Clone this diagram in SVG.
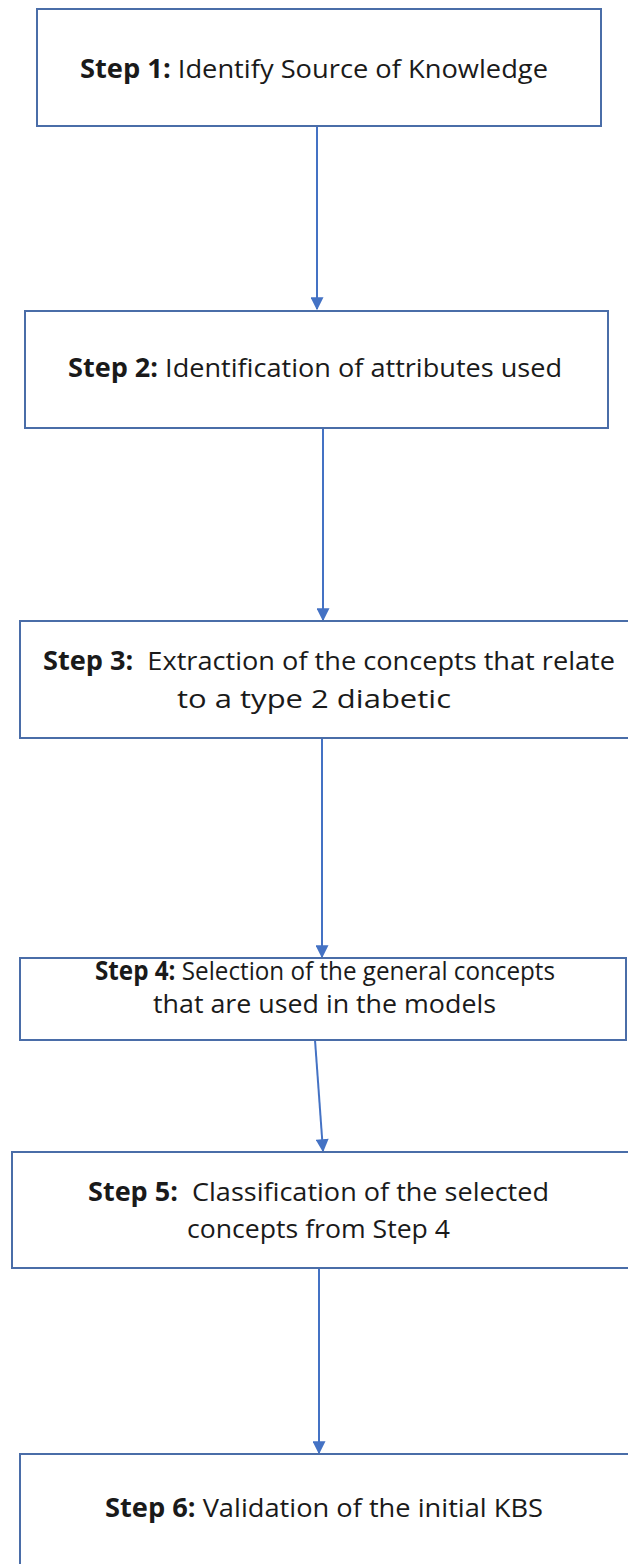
<svg xmlns="http://www.w3.org/2000/svg" width="628" height="1564" viewBox="0 0 628 1564">
  <style>
    .box { fill: #ffffff; stroke: #4a6da8; stroke-width: 2; }
    .lbl { font-family: "Open Sans", "Liberation Sans", sans-serif; font-size: 26px; fill: #1a1a1a; }
    .b { font-weight: bold; }
    .conn { stroke: #4472c4; stroke-width: 2; fill: none; marker-end: url(#arrow); }
  </style>
  <defs>
    <marker id="arrow" viewBox="0 0 10 10" refX="9" refY="5" markerWidth="7" markerHeight="6.5" orient="auto" markerUnits="strokeWidth">
      <path d="M0,0 L10,5 L0,10 z" fill="#4472c4"/>
    </marker>
  </defs>
  <rect width="628" height="1564" fill="#ffffff"/>

  <g id="connectors">
    <line class="conn" x1="317" y1="126" x2="317" y2="309"/>
    <line class="conn" x1="323" y1="428" x2="323" y2="620"/>
    <line class="conn" x1="322" y1="738" x2="322" y2="957"/>
    <line class="conn" x1="315" y1="1040" x2="323" y2="1151"/>
    <line class="conn" x1="319" y1="1268" x2="319" y2="1453"/>
  </g>

  <g id="step1">
    <rect class="box" x="37" y="9" width="564" height="117"/>
    <text class="lbl" x="80" y="78" textLength="468" lengthAdjust="spacingAndGlyphs"><tspan class="b">Step 1:</tspan> Identify Source of Knowledge</text>
  </g>

  <g id="step2">
    <rect class="box" x="25" y="311" width="583" height="117"/>
    <text class="lbl" x="68" y="377" textLength="494" lengthAdjust="spacingAndGlyphs"><tspan class="b">Step 2:</tspan> Identification of attributes used</text>
  </g>

  <g id="step3">
    <rect class="box" x="20" y="621" width="620" height="117"/>
    <text class="lbl" x="43" y="670" textLength="572" lengthAdjust="spacingAndGlyphs"><tspan class="b">Step 3:</tspan>&#160; Extraction of the concepts that relate</text>
    <text class="lbl" x="177" y="708" textLength="274" lengthAdjust="spacingAndGlyphs">to a type 2 diabetic</text>
  </g>

  <g id="step4">
    <rect class="box" x="20" y="958" width="606" height="82"/>
    <text class="lbl" x="95" y="980" textLength="460" lengthAdjust="spacingAndGlyphs"><tspan class="b">Step 4:</tspan> Selection of the general concepts</text>
    <text class="lbl" x="153" y="1013" textLength="343" lengthAdjust="spacingAndGlyphs">that are used in the models</text>
  </g>

  <g id="step5">
    <rect class="box" x="12" y="1152" width="628" height="116"/>
    <text class="lbl" x="88" y="1201" textLength="461" lengthAdjust="spacingAndGlyphs"><tspan class="b">Step 5:</tspan>&#160; Classification of the selected</text>
    <text class="lbl" x="187" y="1238" textLength="263" lengthAdjust="spacingAndGlyphs">concepts from Step 4</text>
  </g>

  <g id="step6">
    <rect class="box" x="20" y="1454" width="620" height="130"/>
    <text class="lbl" x="105" y="1517" textLength="438" lengthAdjust="spacingAndGlyphs"><tspan class="b">Step 6:</tspan> Validation of the initial KBS</text>
  </g>
</svg>
